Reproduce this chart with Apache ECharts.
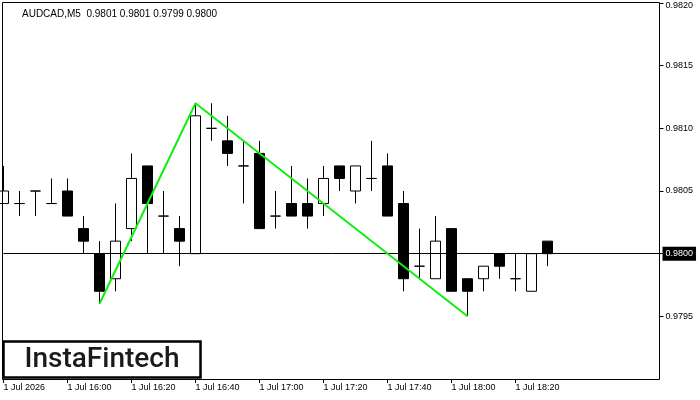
<!DOCTYPE html>
<html>
<head>
<meta charset="utf-8">
<script src="https://cdn.jsdelivr.net/npm/echarts@6/dist/echarts.min.js"></script>
<style>html,body{margin:0;padding:0;background:#fff}#c{width:700px;height:400px}</style>
</head>
<body>
<div id="c"></div>
<script>
// bar times (5-minute bars), plus empty slots on the right
const categories = ['15:40','15:45','15:50','15:55','16:00','16:05','16:10','16:15','16:20','16:25','16:30','16:35',
  '16:40','16:45','16:50','16:55','17:00','17:05','17:10','17:15','17:20','17:25','17:30','17:35',
  '17:40','17:45','17:50','17:55','18:00','18:05','18:10','18:15','18:20','18:25','18:30',
  '18:35','18:40','18:45','18:50','18:55','19:00','19:05'];
const xTickLabels = ['1 Jul 2026','1 Jul 16:00','1 Jul 16:20','1 Jul 16:40','1 Jul 17:00','1 Jul 17:20','1 Jul 17:40','1 Jul 18:00','1 Jul 18:20'];
const opens  = [0.9804,0.9804,0.9805,0.9804,0.9805,0.9802,0.9800,0.9798,0.9802,0.9807,0.9803,0.9802,
  0.9800,0.9810,0.9809,0.9807,0.9808,0.9803,0.9804,0.9804,0.9804,0.9807,0.9805,0.9806,
  0.9807,0.9804,0.9799,0.9798,0.9802,0.9798,0.9798,0.9800,0.9798,0.9797,0.9801];
const closes = [0.9805,0.9804,0.9805,0.9804,0.9803,0.9801,0.9797,0.9801,0.9806,0.9804,0.9803,0.9801,
  0.9811,0.9810,0.9808,0.9807,0.9802,0.9803,0.9803,0.9803,0.9806,0.9806,0.9807,0.9806,
  0.9803,0.9798,0.9799,0.9801,0.9797,0.9797,0.9799,0.9799,0.9798,0.9800,0.9800];
const lows   = [0.9804,0.9803,0.9803,0.9804,0.9803,0.9800,0.9796,0.9797,0.9801,0.9800,0.9800,0.9799,
  0.9800,0.9809,0.9807,0.9804,0.9802,0.9802,0.9803,0.9802,0.9803,0.9805,0.9804,0.9805,
  0.9803,0.9797,0.9798,0.9798,0.9797,0.9795,0.9797,0.9798,0.9797,0.9797,0.9799];
const highs  = [0.9807,0.9805,0.9805,0.9806,0.9806,0.9803,0.9801,0.9804,0.9808,0.9807,0.9805,0.9803,
  0.9812,0.9812,0.9811,0.9809,0.9809,0.9805,0.9807,0.9806,0.9807,0.9807,0.9807,0.9809,
  0.9808,0.9805,0.9802,0.9803,0.9802,0.9798,0.9799,0.9800,0.9800,0.9800,0.9801];
// pattern line (bar index, price)
const patternIdx = [6, 12, 29];
const patternPrice = [0.9796, 0.9812, 0.9795];
const levelPrice = 0.9800;
const headerText = 'AUDCAD,M5  0.9801 0.9801 0.9799 0.9800';
const logoText = 'InstaFintech';

const candleData = opens.map((o, i) => [o, closes[i], lows[i], highs[i]]);
const patternData = patternIdx.map((x, i) => [x, patternPrice[i]]);
const showTick = (idx) => idx % 4 === 0 && idx / 4 < xTickLabels.length;
const FONT = 'Liberation Sans';

const chart = echarts.init(document.getElementById('c'), null, {renderer: 'canvas'});
chart.setOption({
  animation: false,
  backgroundColor: '#fff',
  title: {
    text: headerText, left: 17, top: 4,
    textStyle: {fontFamily: FONT, fontSize: 10, fontWeight: 'normal', color: '#000'}
  },
  grid: {left: 3.5, right: 40.5, top: 3, bottom: 21},
  xAxis: {
    type: 'category', data: categories, boundaryGap: false,
    axisLine: {show: false},
    axisTick: {show: true, interval: showTick, length: 4, lineStyle: {color: '#000'}},
    axisLabel: {
      interval: showTick, align: 'left', margin: 4, fontFamily: FONT, fontSize: 9, color: '#000',
      formatter: (v, idx) => xTickLabels[idx / 4]
    },
    splitLine: {show: false}
  },
  yAxis: {
    type: 'value', position: 'right', min: 0.9790, max: 0.9820, interval: 0.0005, scale: true,
    axisLine: {show: false},
    axisTick: {show: true, length: 4, lineStyle: {color: '#000'}},
    axisLabel: {
      showMinLabel: false, margin: 6, fontFamily: FONT, fontSize: 9, color: '#000',
      formatter: v => { const s = v.toFixed(4); return v > 0.98195 ? '{top|' + s + '}' : s; },
      rich: {top: {padding: [6, 0, 0, 0], fontFamily: FONT, fontSize: 9, color: '#000'}}
    },
    splitLine: {show: false}
  },
  series: [
    {
      type: 'candlestick', data: candleData, barWidth: 10, clip: true,
      itemStyle: {color: '#fff', color0: '#000', borderColor: '#000', borderColor0: '#000', borderWidth: 1},
      emphasis: {disabled: true},
      markLine: {
        silent: true, symbol: 'none', animation: false,
        lineStyle: {color: '#000', width: 1, type: 'solid'},
        label: {
          position: 'end', distance: 3, formatter: levelPrice.toFixed(4),
          backgroundColor: '#000', color: '#fff', padding: [3, 3, 2, 3],
          fontFamily: FONT, fontSize: 9
        },
        data: [{yAxis: levelPrice}]
      }
    },
    {
      type: 'line', data: patternData, symbol: 'none', z: 5,
      lineStyle: {color: '#10ee10', width: 2}
    }
  ],
  graphic: [
    {type: 'rect', z: 100, shape: {x: 2.5, y: 2.5, width: 657, height: 377},
     style: {fill: null, stroke: '#000', lineWidth: 1}},
    {type: 'rect', z: 101, shape: {x: 3.5, y: 341.5, width: 197, height: 36},
     style: {fill: '#fff', stroke: '#000', lineWidth: 2.5}},
    {type: 'text', z: 102, x: 102, y: 360,
     style: {text: logoText, font: '500 28px Roboto', fill: '#1a1a1a', align: 'center', verticalAlign: 'middle'}}
  ]
});
</script>
</body>
</html>
